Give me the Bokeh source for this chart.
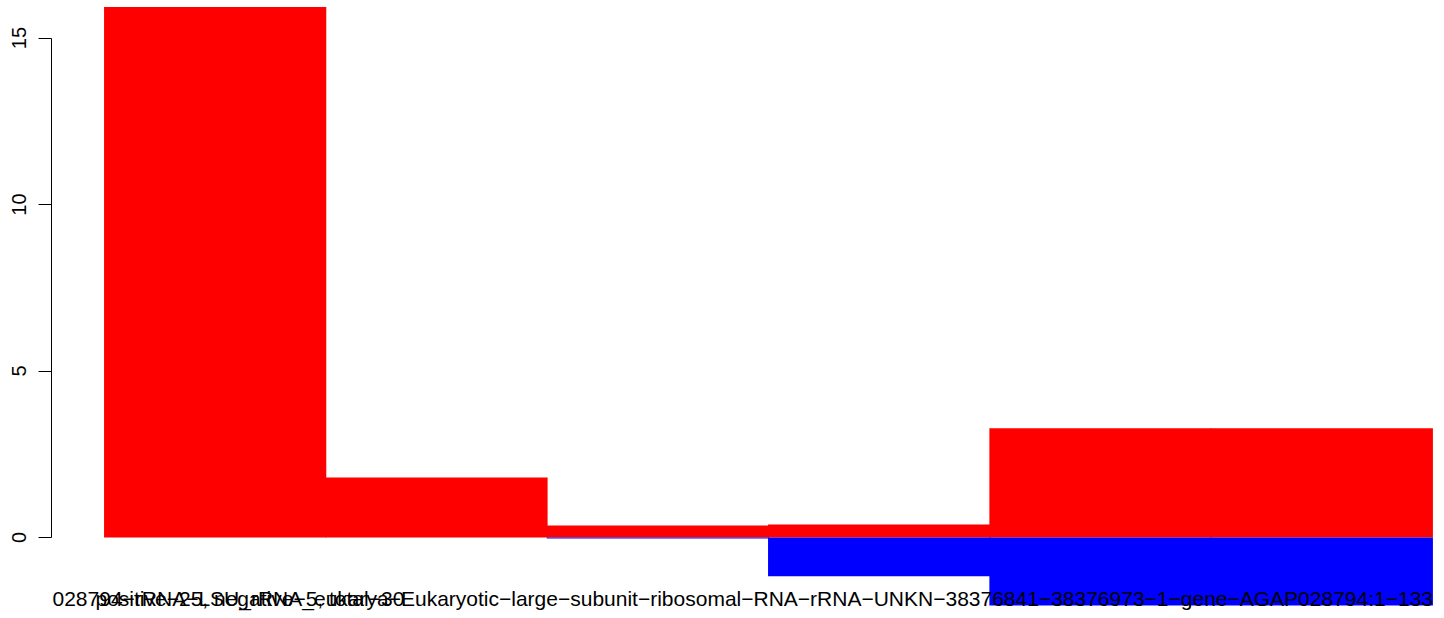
import math
from bokeh.plotting import figure
from bokeh.models import Range1d, FixedTicker, ColumnDataSource
from bokeh.core.properties import value
from bokeh.embed import file_html
from bokeh.resources import INLINE

# ---- data ----
bar_index = [0, 1, 2, 3, 4, 5]
positive = [15.93, 1.80, 0.36, 0.39, 3.28, 3.28]
negative = [0.0, 0.0, -0.03, -1.16, -2.04, -2.04]
y_ticks = [0, 5, 10, 15]
label_first = "positive\u221225, negative\u22125, total\u221230"
label_long = ("028794\u2212rRNA\u2212LSU_rRNA_eukarya\u2212Eukaryotic\u2212large\u2212subunit\u2212"
              "ribosomal\u2212RNA\u2212rRNA\u2212UNKN\u221238376841\u221238376973\u22121\u2212gene\u2212"
              "AGAP028794:1\u2212133")

# ---- layout constants ----
W, H = 1444, 618
LEFT = 51
PX_X = 221.33   # px per bar unit
PX_Y = 33.3     # px per y unit
BAR0 = 104      # pixel of first bar's left edge
ZERO = 537      # pixel of y = 0
x0 = (LEFT - BAR0) / PX_X
x1 = (W - BAR0) / PX_X
y1 = ZERO / PX_Y
y0 = -(H - ZERO) / PX_Y

centers = [i + 0.5 for i in bar_index]
src = ColumnDataSource(dict(x=centers, pos=positive, neg=negative))

p = figure(width=W, height=H, output_backend="svg", toolbar_location=None,
           x_range=Range1d(x0, x1), y_range=Range1d(y0, y1),
           x_axis_location=None, min_border_left=LEFT, min_border_right=0,
           min_border_top=0, min_border_bottom=0)
p.outline_line_color = None
p.xgrid.visible = False
p.ygrid.visible = False
p.background_fill_color = "white"
p.border_fill_color = "white"

p.vbar(x="x", width=1.004, bottom=0, top="pos", source=src,
       fill_color="#FF0000", line_color=None)
p.vbar(x="x", width=1.004, bottom="neg", top=0, source=src,
       fill_color="#0000FF", line_color=None)

ax = p.yaxis[0]
ax.ticker = FixedTicker(ticks=y_ticks)
ax.bounds = (0, 15)
ax.minor_tick_line_color = None
ax.major_tick_in = 0
ax.major_tick_out = 13
ax.major_label_standoff = 13
ax.major_label_orientation = "parallel"
ax.major_label_text_font = "Liberation Sans"
ax.major_label_text_font_size = "20px"
ax.major_label_text_color = "black"
ax.axis_line_color = "black"
ax.major_tick_line_color = "black"

label_y = -(598 - ZERO) / PX_Y
p.text(x=[(95 - BAR0) / PX_X], y=[label_y], text=[label_first],
       text_font=value("Liberation Sans"), text_font_size="21px",
       text_align="left", text_baseline="alphabetic", text_color="black")
p.text(x=[(52 - BAR0) / PX_X], y=[label_y], text=[label_long],
       text_font=value("Liberation Sans"), text_font_size="21px",
       text_align="left", text_baseline="alphabetic", text_color="black")

open("out.html", "w").write(file_html(p, INLINE))
